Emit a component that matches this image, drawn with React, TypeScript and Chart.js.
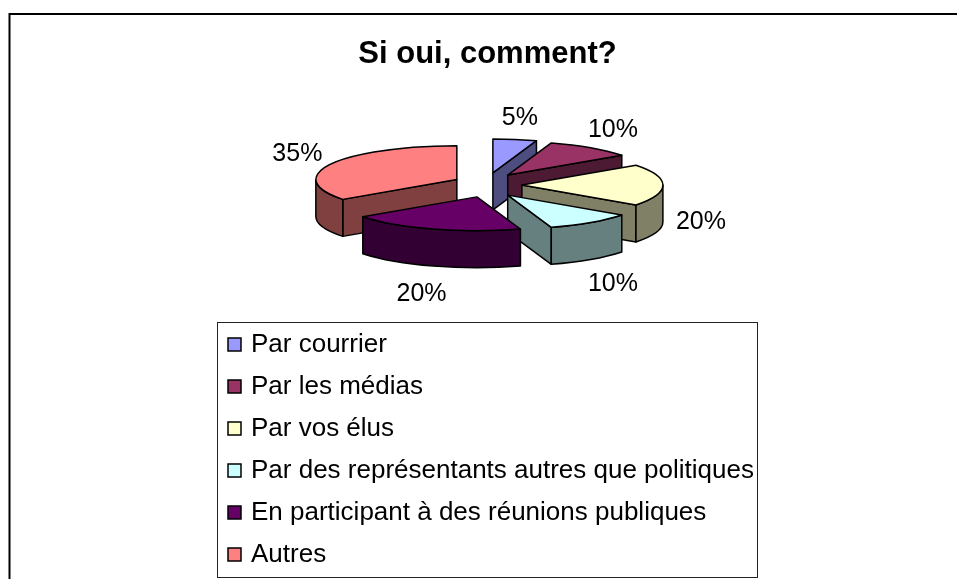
import React, { useEffect, useRef } from 'react';
import { Chart, registerables } from 'chart.js';

Chart.register(...registerables);

// ---- data ----
const categories = [
  'Par courrier',
  'Par les médias',
  'Par vos élus',
  'Par des représentants autres que politiques',
  'En participant à des réunions publiques',
  'Autres',
];
const shares = [5, 10, 20, 10, 20, 35];
const topColors = ['#9999FF', '#993366', '#FFFFCC', '#CCFFFF', '#660066', '#FF8080'];
const sideColors = ['#4D4D80', '#4D1A33', '#808066', '#668080', '#330033', '#804040'];
const titleText = 'Si oui, comment?';

// ---- style ----
const FONT = "'Liberation Sans', Arial, Helvetica, sans-serif";
const TILT = 0.24; // vertical squash of the pie disc
const OFFSET_TILT = 0.36; // vertical squash applied to the explosion offset
const DEPTH = 37; // thickness of the pie
const LABEL_GAP = 13;

const LEGEND = { left: 217, top: 322, right: 757, bottom: 577, firstRow: 344.5, rowGap: 42, box: 13, boxX: 228, textX: 251 };

type Slice = {
  i: number;
  x: number;
  y: number;
  a0: number;
  a1: number;
  r: number;
  mid: number;
  ox: number;
  oy: number;
};

const pie3d = {
  id: 'pie3d',
  beforeDraw(chart: any) {
    const ctx = chart.ctx;
    ctx.save();
    ctx.fillStyle = '#ffffff';
    ctx.fillRect(0, 0, chart.width, chart.height);
    ctx.strokeStyle = '#000';
    ctx.lineWidth = 2;
    ctx.strokeRect(9.5, 14, chart.width + 50, chart.height + 50);
    ctx.restore();
  },
  beforeDatasetsDraw(chart: any) {
    const ctx: CanvasRenderingContext2D = chart.ctx;
    const meta = chart.getDatasetMeta(0);
    const slices: Slice[] = meta.data.map((arc: any, i: number) => {
      const p = arc.getProps(['x', 'y', 'startAngle', 'endAngle', 'outerRadius'], true);
      const off = arc.options.offset || 0;
      const mid = (p.startAngle + p.endAngle) / 2;
      return {
        i,
        x: p.x,
        y: p.y,
        a0: p.startAngle,
        a1: p.endAngle,
        r: p.outerRadius,
        mid,
        ox: p.x + Math.cos(mid) * off,
        oy: p.y + Math.sin(mid) * off * OFFSET_TILT,
      };
    });
    const order = [...slices].sort((a, b) => a.oy - b.oy);

    ctx.save();
    ctx.lineWidth = 1.5;
    ctx.strokeStyle = '#000';
    ctx.lineJoin = 'round';

    for (const s of order) {
      const { ox, oy, r, a0, a1 } = s;
      const ry = r * TILT;
      const P = (a: number) => ({ x: ox + r * Math.cos(a), y: oy + ry * Math.sin(a) });
      const side = sideColors[s.i];
      const top = topColors[s.i];

      const radial = (a: number) => {
        const p = P(a);
        ctx.beginPath();
        ctx.moveTo(ox, oy);
        ctx.lineTo(p.x, p.y);
        ctx.lineTo(p.x, p.y + DEPTH);
        ctx.lineTo(ox, oy + DEPTH);
        ctx.closePath();
        ctx.fillStyle = side;
        ctx.fill();
        ctx.stroke();
      };
      if (Math.cos(a0) < -0.02) radial(a0);
      if (Math.cos(a1) > 0.02) radial(a1);

      // outer curved wall (front half only)
      const ws = Math.max(a0, 0);
      const we = Math.min(a1, Math.PI);
      if (we > ws) {
        const pe = P(we);
        ctx.beginPath();
        ctx.ellipse(ox, oy, r, ry, 0, ws, we, false);
        ctx.lineTo(pe.x, pe.y + DEPTH);
        ctx.ellipse(ox, oy + DEPTH, r, ry, 0, we, ws, true);
        ctx.closePath();
        ctx.fillStyle = side;
        ctx.fill();
        ctx.stroke();
      }

      // top face
      ctx.beginPath();
      ctx.moveTo(ox, oy);
      ctx.ellipse(ox, oy, r, ry, 0, a0, a1, false);
      ctx.closePath();
      ctx.fillStyle = top;
      ctx.fill();
      ctx.stroke();
    }

    // percentage labels
    ctx.fillStyle = '#000';
    ctx.font = `25px ${FONT}`;
    ctx.textAlign = 'center';
    ctx.textBaseline = 'middle';
    const values = chart.data.datasets[0].data as number[];
    const total = values.reduce((a, b) => a + b, 0);
    for (const s of slices) {
      const c = Math.cos(s.mid);
      const sn = Math.sin(s.mid);
      const rimX = s.ox + s.r * c;
      const rimY = s.oy + s.r * TILT * sn + (sn > -0.1 ? DEPTH : 0);
      const txt = `${Math.round((values[s.i] / total) * 100)}%`;
      const w = ctx.measureText(txt).width;
      const lx = rimX + c * (w / 2 + LABEL_GAP);
      const ly = rimY + sn * (9 + LABEL_GAP) + (sn > 0.3 ? 7 : 0);
      ctx.fillText(txt, lx, ly);
    }
    ctx.restore();
    return false;
  },
  afterDraw(chart: any) {
    const ctx: CanvasRenderingContext2D = chart.ctx;
    const labels = chart.data.labels as string[];
    const colors = chart.data.datasets[0].backgroundColor as string[];
    ctx.save();
    ctx.fillStyle = '#fff';
    ctx.fillRect(LEGEND.left, LEGEND.top, LEGEND.right - LEGEND.left, LEGEND.bottom - LEGEND.top);
    ctx.strokeStyle = '#222';
    ctx.lineWidth = 1;
    ctx.strokeRect(LEGEND.left + 0.5, LEGEND.top + 0.5, LEGEND.right - LEGEND.left, LEGEND.bottom - LEGEND.top);
    ctx.font = `26px ${FONT}`;
    ctx.textAlign = 'left';
    ctx.textBaseline = 'alphabetic';
    labels.forEach((lab, i) => {
      const cy = LEGEND.firstRow + i * LEGEND.rowGap;
      ctx.fillStyle = colors[i];
      ctx.fillRect(LEGEND.boxX, cy - LEGEND.box / 2, LEGEND.box, LEGEND.box);
      ctx.strokeStyle = '#000';
      ctx.lineWidth = 1.5;
      ctx.strokeRect(LEGEND.boxX, cy - LEGEND.box / 2, LEGEND.box, LEGEND.box);
      ctx.fillStyle = '#000';
      ctx.fillText(lab, LEGEND.textX, cy + 7);
    });
    ctx.restore();
  },
};

export default function App() {
  const ref = useRef<HTMLCanvasElement>(null);
  useEffect(() => {
    const chart = new Chart(ref.current as HTMLCanvasElement, {
      type: 'pie',
      data: {
        labels: categories,
        datasets: [
          {
            data: shares,
            backgroundColor: topColors,
            borderColor: '#000',
            borderWidth: 1.5,
            offset: 34.4,
            radius: 141,
          } as any,
        ],
      },
      options: {
        responsive: false,
        animation: false,
        events: [],
        layout: { padding: { left: 18, right: 0, top: 0, bottom: 282 } },
        plugins: {
          legend: { display: false },
          tooltip: { enabled: false },
          title: {
            display: true,
            text: titleText,
            color: '#000',
            font: { family: FONT, size: 31, weight: 'bold' },
            padding: { top: 36, bottom: 0 },
          },
        },
      } as any,
      plugins: [pie3d],
    });
    return () => chart.destroy();
  }, []);
  return (
    <div style={{ position: 'absolute', left: 0, top: 0, width: 957, height: 579, background: '#fff' }}>
      <canvas ref={ref} width={957} height={579} style={{ display: 'block' }} />
    </div>
  );
}
